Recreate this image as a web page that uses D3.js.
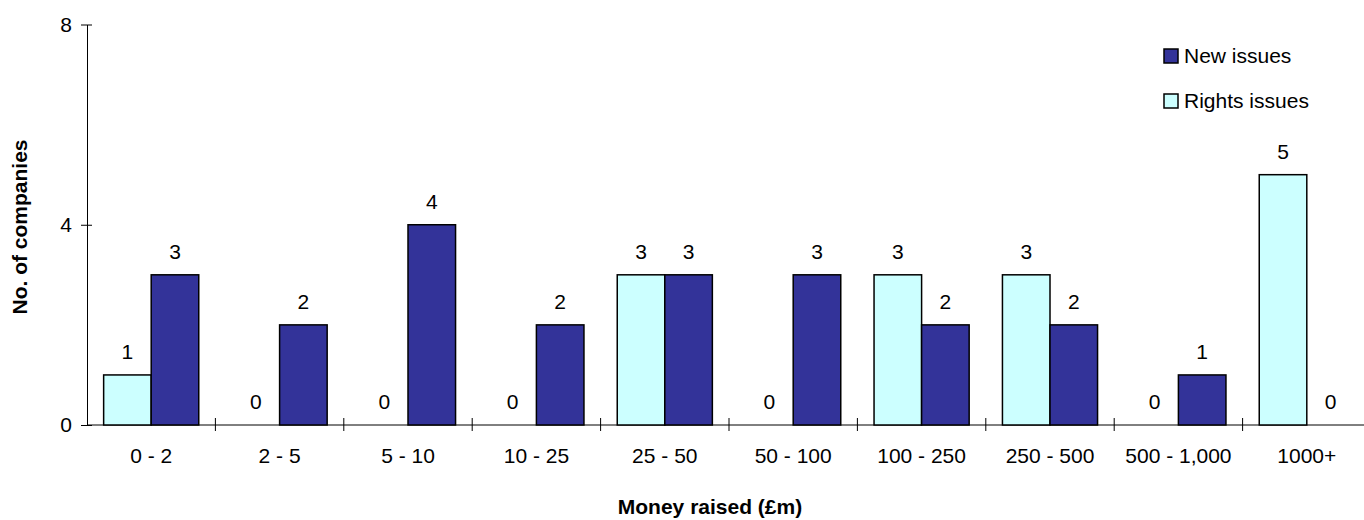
<!DOCTYPE html>
<html>
<head>
<meta charset="utf-8">
<script src="https://cdn.jsdelivr.net/npm/d3@7"></script>
<style>
  body { margin: 0; background: #fff; }
  text { font-family: "Liberation Sans", Arial, sans-serif; fill: #000; }
</style>
</head>
<body>
<div id="main"></div>
<script>
"use strict";
var categories = ["0 - 2", "2 - 5", "5 - 10", "10 - 25", "25 - 50", "50 - 100", "100 - 250", "250 - 500", "500 - 1,000", "1000+"];
var rightsIssues = [1, 0, 0, 0, 3, 0, 3, 3, 0, 5];
var newIssues = [3, 2, 4, 2, 3, 3, 2, 2, 1, 0];
var yTicks = [0, 4, 8];
var seriesNames = ["Rights issues", "New issues"];

var W = 1364, H = 520, FS = 21;
var colors = { "Rights issues": "#ccffff", "New issues": "#333399" };

var svg = d3.select("#main").append("svg").attr("width", W).attr("height", H);

var x = d3.scaleBand().domain(categories).range([87, 1371]).padding(0);
var xs = d3.scaleBand().domain(seriesNames).range([0, x.bandwidth()]).paddingInner(0).paddingOuter(0.35);
var y = d3.scaleLinear().domain([0, 8]).range([425, 24.5]);

// y axis
var yAxis = svg.append("g").attr("transform", "translate(87,0)")
  .call(d3.axisLeft(y).tickValues(yTicks).tickSizeOuter(0));
yAxis.selectAll(".tick line").attr("x1", 5).attr("x2", -6);
yAxis.select(".domain").attr("stroke", "#000");
yAxis.selectAll(".tick text").attr("x", -15).attr("font-size", FS)
  .attr("font-family", "Liberation Sans, Arial, sans-serif");

// x axis
var xAxis = svg.append("g").attr("transform", "translate(0,425)")
  .call(d3.axisBottom(x).tickSize(0));
xAxis.select(".domain").attr("d", "M87,0H1371").attr("stroke", "#000");
xAxis.selectAll(".tick text").attr("y", 38).attr("dy", null).attr("font-size", FS)
  .attr("font-family", "Liberation Sans, Arial, sans-serif");
svg.append("g").selectAll("line").data(categories.slice(1)).join("line")
  .attr("x1", function(d) { return x(d); }).attr("x2", function(d) { return x(d); })
  .attr("y1", 418).attr("y2", 431).attr("stroke", "#000");

var flat = d3.merge(categories.map(function(c, i) {
  return [{ cat: c, s: "Rights issues", v: rightsIssues[i] }, { cat: c, s: "New issues", v: newIssues[i] }];
}));

var g = svg.append("g");
g.selectAll("rect").data(flat.filter(function(d) { return d.v > 0; })).join("rect")
  .attr("x", function(d) { return x(d.cat) + xs(d.s); })
  .attr("y", function(d) { return y(d.v); })
  .attr("width", xs.bandwidth())
  .attr("height", function(d) { return y(0) - y(d.v); })
  .attr("fill", function(d) { return colors[d.s]; })
  .attr("stroke", "#000").attr("stroke-width", 1.5);

g.selectAll("text").data(flat).join("text")
  .attr("x", function(d) { return x(d.cat) + xs(d.s) + xs.bandwidth() / 2; })
  .attr("y", function(d) { return y(d.v) - 16; })
  .attr("text-anchor", "middle").attr("font-size", FS)
  .text(function(d) { return d.v; });

// legend
var legend = svg.append("g").selectAll("g").data(["New issues", "Rights issues"]).join("g")
  .attr("transform", function(d, i) { return "translate(1164," + (49 + i * 45) + ")"; });
legend.append("rect").attr("width", 14).attr("height", 14)
  .attr("fill", function(d) { return colors[d]; }).attr("stroke", "#000").attr("stroke-width", 1.5);
legend.append("text").attr("x", 20).attr("y", 14).attr("font-size", FS).text(function(d) { return d; });

// axis titles
svg.append("text").attr("x", 710).attr("y", 514).attr("text-anchor", "middle")
  .attr("font-size", FS).attr("font-weight", "bold").text("Money raised (£m)");
svg.append("text").attr("transform", "translate(27,227) rotate(-90)").attr("text-anchor", "middle")
  .attr("font-size", FS).attr("font-weight", "bold").text("No. of companies");
</script>
</body>
</html>
